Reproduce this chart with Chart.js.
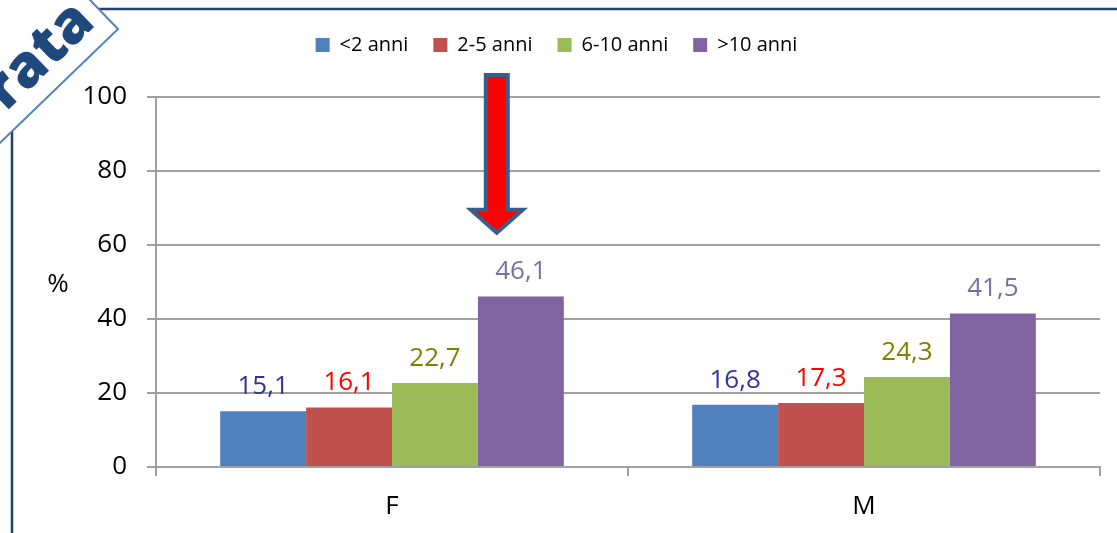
<!DOCTYPE html>
<html>
<head>
<meta charset="utf-8">
<title>Anzianità per sesso</title>
<script src="https://cdn.jsdelivr.net/npm/chart.js@4/dist/chart.umd.min.js"></script>
<style>
  html, body { margin: 0; padding: 0; background: #ffffff; }
  #chart { display: block; }
</style>
</head>
<body>
<canvas id="chart" width="1117" height="533"></canvas>
<script>
// ---- data ----
const categories = ['F', 'M'];
const seriesNames = ['<2 anni', '2-5 anni', '6-10 anni', '>10 anni'];
const under2 = [15.1, 16.8];
const from2to5 = [16.1, 17.3];
const from6to10 = [22.7, 24.3];
const over10 = [46.1, 41.5];
const yTickValues = [0, 20, 40, 60, 80, 100];
const axisTitle = '%';
const ribbonText = 'rata';

// ---- styles ----
const FONT = '"Open Sans", "Liberation Sans", sans-serif';
const barColors = ['#4f81bd', '#c0504d', '#9bbb59', '#8064a2'];
const valueColors = ['#333399', '#ff0000', '#808000', '#7571a6'];
const gridColor = '#a0a0a0';

const seriesValues = [under2, from2to5, from6to10, over10];
const fmt = v => v.toFixed(1).replace('.', ',');

// Extra room between the legend and the plot area
const legendSpacer = {
  id: 'legendSpacer',
  beforeInit(chart) {
    const fit = chart.legend.fit;
    chart.legend.fit = function () {
      fit.call(this);
      this.height += 32;
    };
  }
};

// Outer frame behind everything
const frame = {
  id: 'frame',
  beforeDraw(chart) {
    const ctx = chart.ctx;
    ctx.save();
    ctx.strokeStyle = '#243f73';
    ctx.lineWidth = 2.5;
    ctx.strokeRect(12, 9, 1300, 700);
    ctx.restore();
  }
};

// Value labels above each bar, plus the pointer arrow
const barValues = {
  id: 'barValues',
  afterDatasetsDraw(chart) {
    const ctx = chart.ctx;
    ctx.save();
    ctx.font = '26px ' + FONT;
    ctx.textAlign = 'center';
    ctx.textBaseline = 'alphabetic';
    chart.data.datasets.forEach((ds, i) => {
      const meta = chart.getDatasetMeta(i);
      ctx.fillStyle = valueColors[i];
      meta.data.forEach((bar, j) => {
        ctx.fillText(fmt(ds.data[j]), bar.x, bar.y - 17);
      });
    });

    // down arrow over the F group
    const xs = chart.scales.x, ys = chart.scales.y;
    const catW = xs.getPixelForValue(1) - xs.getPixelForValue(0);
    const cx = xs.getPixelForValue(0) + 0.222 * catW;
    const yTop = ys.getPixelForValue(106.5) + 2;
    const yNeck = ys.getPixelForValue(70.1) + 2;
    const yTip = ys.getPixelForValue(62.5) - 3;
    ctx.beginPath();
    ctx.moveTo(cx - 11, yTop);
    ctx.lineTo(cx + 11, yTop);
    ctx.lineTo(cx + 11, yNeck);
    ctx.lineTo(cx + 26, yNeck);
    ctx.lineTo(cx, yTip);
    ctx.lineTo(cx - 26, yNeck);
    ctx.lineTo(cx - 11, yNeck);
    ctx.closePath();
    ctx.fillStyle = '#ff0000';
    ctx.fill();
    ctx.lineJoin = 'miter';
    ctx.lineWidth = 4;
    ctx.strokeStyle = '#3a5e8c';
    ctx.stroke();
    ctx.restore();
  }
};

// Axis title and the corner ribbon
const extras = {
  id: 'extras',
  afterDraw(chart) {
    const ctx = chart.ctx;
    const area = chart.chartArea;
    ctx.save();
    ctx.fillStyle = '#000';
    ctx.font = '26px ' + FONT;
    ctx.textAlign = 'center';
    ctx.textBaseline = 'middle';
    ctx.fillText(axisTitle, 58, (area.top + area.bottom) / 2 + 3);

    // ribbon rotated across the top-left corner
    ctx.translate(118, 29);
    ctx.rotate(-44 * Math.PI / 180);
    ctx.fillStyle = '#ffffff';
    ctx.fillRect(-300, -120, 300, 120);
    ctx.strokeStyle = '#4f81bd';
    ctx.lineWidth = 2;
    ctx.strokeRect(-300, -120, 300, 120);
    ctx.fillStyle = '#1f497d';
    ctx.font = '800 58px ' + FONT;
    ctx.textAlign = 'right';
    ctx.textBaseline = 'alphabetic';
    ctx.fillText(ribbonText, -12, -18);
    ctx.restore();
  }
};

new Chart(document.getElementById('chart'), {
  type: 'bar',
  data: {
    labels: categories,
    datasets: seriesNames.map((name, i) => ({
      label: name,
      data: seriesValues[i],
      backgroundColor: barColors[i],
      borderWidth: 0,
      barPercentage: 1,
      categoryPercentage: 0.728
    }))
  },
  options: {
    responsive: false,
    animation: false,
    devicePixelRatio: 1,
    layout: { padding: { top: 10, left: 13, right: 17, bottom: 0 } },
    plugins: {
      legend: {
        position: 'top',
        labels: {
          boxWidth: 14,
          boxHeight: 14,
          padding: 25,
          color: '#000',
          font: { family: FONT, size: 20 }
        }
      },
      tooltip: { enabled: false }
    },
    scales: {
      x: {
        offset: true,
        grid: {
          offset: true,
          drawOnChartArea: false,
          drawTicks: true,
          tickLength: 9,
          color: gridColor,
          lineWidth: 2
        },
        border: { color: gridColor, width: 2 },
        ticks: { color: '#000', font: { family: FONT, size: 26 }, padding: 15 },
        afterFit(scale) { scale.height = 66; }
      },
      y: {
        min: 0,
        max: 100,
        afterBuildTicks(scale) { scale.ticks = yTickValues.map(v => ({ value: v })); },
        grid: { color: gridColor, lineWidth: 2, tickLength: 9 },
        border: { color: gridColor, width: 2 },
        ticks: { color: '#000', font: { family: FONT, size: 26 }, padding: 20 },
        afterFit(scale) { scale.width = 143; }
      }
    }
  },
  plugins: [legendSpacer, frame, barValues, extras]
});
</script>
</body>
</html>
